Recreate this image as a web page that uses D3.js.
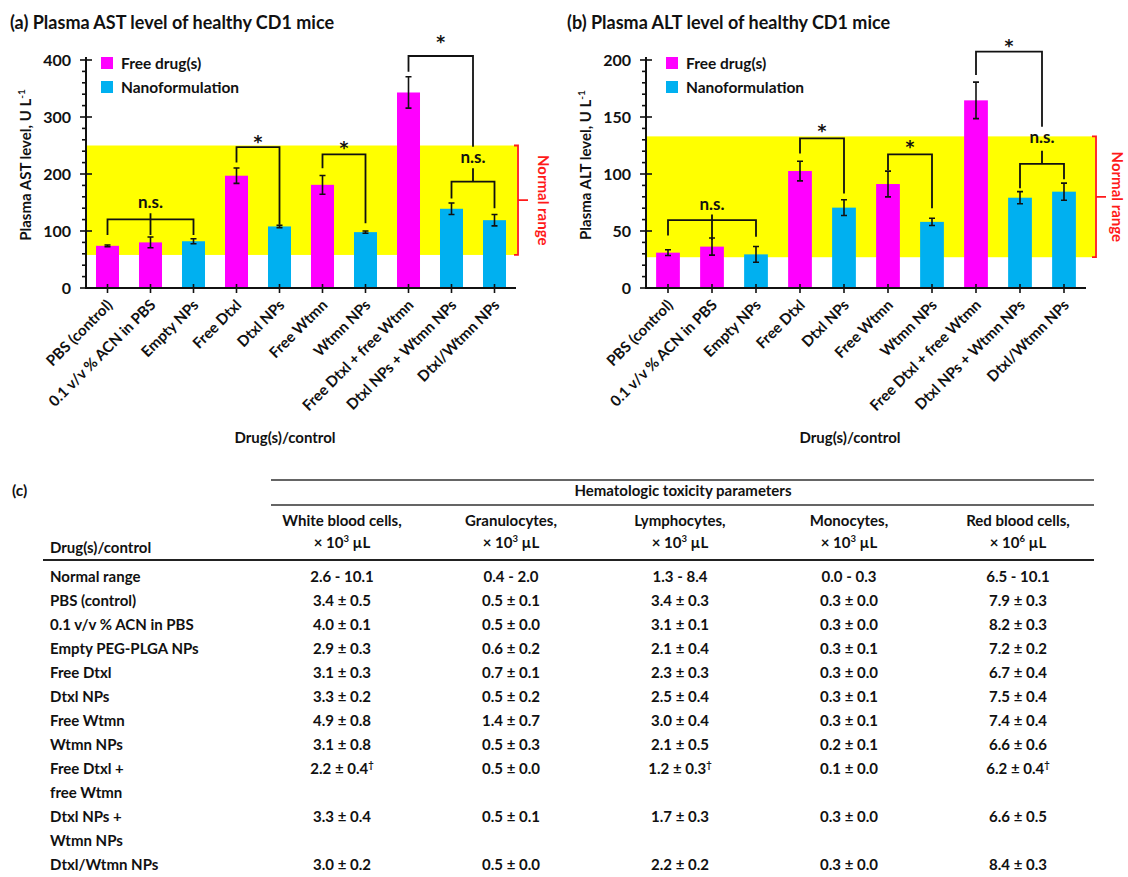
<!DOCTYPE html>
<html><head><meta charset="utf-8">
<script src="https://cdn.jsdelivr.net/npm/d3@7"></script>
<style>
body{margin:0;background:#fff;}
svg{display:block;font-family:Lato,'Open Sans',sans-serif;font-weight:700;}
</style></head><body>
<svg id="chart" width="1128" height="877"></svg>
<script>
// ---------- data ----------
const categories = ["PBS (control)","0.1 v/v % ACN in PBS","Empty NPs","Free Dtxl","Dtxl NPs","Free Wtmn","Wtmn NPs","Free Dtxl + free Wtmn","Dtxl NPs + Wtmn NPs","Dtxl/Wtmn NPs"];
const seriesNames = ["Free drug(s)","Nanoformulation"];
const formulation = ["Free drug(s)","Free drug(s)","Nanoformulation","Free drug(s)","Nanoformulation","Free drug(s)","Nanoformulation","Free drug(s)","Nanoformulation","Nanoformulation"];
const astValues = [74, 80, 82, 197, 108, 181, 98, 343, 139, 119];
const astErrors = [1.5, 9.5, 4.4, 13.5, 2, 16.5, 2, 27.5, 10, 10];
const altValues = [31, 36.3, 29.5, 102.6, 70.5, 91.2, 58, 164.6, 79.2, 84.5];
const altErrors = [2.5, 7.5, 6.9, 8.6, 6.9, 11.3, 3.2, 16, 5.3, 7.5];
const astNormalRange = [58, 250];
const altNormalRange = [27, 133];
const astTicks = [0, 100, 200, 300, 400];
const altTicks = [0, 50, 100, 150, 200];
const astBrackets = [
  {from:0, to:2, y:120.5, fromEnd:93, toEnd:93, mid:1, midTop:131, midEnd:93, label:"n.s.", labelY:140},
  {from:3, to:4, y:247, fromEnd:220, toEnd:111, label:"*", labelY:252},
  {from:5, to:6, y:234.5, fromEnd:210, toEnd:113.5, label:"*", labelY:242},
  {from:7, to:8.5, y:407, fromEnd:379.5, toEnd:248, label:"*", labelY:428},
  {from:8, to:9, y:186.5, fromEnd:157, toEnd:140, mid:8.5, midTop:210, midEnd:186.5, label:"n.s.", labelY:219}
];
const altBrackets = [
  {from:0, to:2, y:59.6, fromEnd:46, toEnd:45, mid:1, midTop:64.5, midEnd:42, label:"n.s.", labelY:68},
  {from:3, to:4, y:131.3, fromEnd:118, toEnd:83, label:"*", labelY:135.7},
  {from:5, to:6, y:117.3, fromEnd:103.5, toEnd:70, label:"*", labelY:122.2},
  {from:7, to:8.5, y:207.3, fromEnd:186.8, toEnd:141.5, label:"*", labelY:210.8},
  {from:8, to:9, y:108.8, fromEnd:87.4, toEnd:95.3, mid:8.5, midTop:120.4, midEnd:108.8, label:"n.s.", labelY:127.5}
];

const tableColumns = ["White blood cells,","Granulocytes,","Lymphocytes,","Monocytes,","Red blood cells,"];
const tableUnitExponents = ["3","3","3","3","6"];
const tableRowLabels = [["Normal range"],["PBS (control)"],["0.1 v/v % ACN in PBS"],["Empty PEG-PLGA NPs"],["Free Dtxl"],["Dtxl NPs"],["Free Wtmn"],["Wtmn NPs"],["Free Dtxl +","free Wtmn"],["Dtxl NPs +","Wtmn NPs"],["Dtxl/Wtmn NPs"]];
const whiteBloodCells = ["2.6 - 10.1","3.4 ± 0.5","4.0 ± 0.1","2.9 ± 0.3","3.1 ± 0.3","3.3 ± 0.2","4.9 ± 0.8","3.1 ± 0.8","2.2 ± 0.4†","3.3 ± 0.4","3.0 ± 0.2"];
const granulocytes = ["0.4 - 2.0","0.5 ± 0.1","0.5 ± 0.0","0.6 ± 0.2","0.7 ± 0.1","0.5 ± 0.2","1.4 ± 0.7","0.5 ± 0.3","0.5 ± 0.0","0.5 ± 0.1","0.5 ± 0.0"];
const lymphocytes = ["1.3 - 8.4","3.4 ± 0.3","3.1 ± 0.1","2.1 ± 0.4","2.3 ± 0.3","2.5 ± 0.4","3.0 ± 0.4","2.1 ± 0.5","1.2 ± 0.3†","1.7 ± 0.3","2.2 ± 0.2"];
const monocytes = ["0.0 - 0.3","0.3 ± 0.0","0.3 ± 0.0","0.3 ± 0.1","0.3 ± 0.0","0.3 ± 0.1","0.3 ± 0.1","0.2 ± 0.1","0.1 ± 0.0","0.3 ± 0.0","0.3 ± 0.0"];
const redBloodCells = ["6.5 - 10.1","7.9 ± 0.3","8.2 ± 0.3","7.2 ± 0.2","6.7 ± 0.4","7.5 ± 0.4","7.4 ± 0.4","6.6 ± 0.6","6.2 ± 0.4†","6.6 ± 0.5","8.4 ± 0.3"];

// ---------- drawing ----------
const svg = d3.select("#chart");
const color = d3.scaleOrdinal().domain(seriesNames).range(["#ff00ff","#00b0f0"]);

function drawPanel(cfg){
  const g = svg.append("g");
  const x = d3.scaleBand().domain(categories).range([cfg.left, cfg.right])
    .paddingInner(cfg.pad).paddingOuter(cfg.pad/2);
  const y = d3.scaleLinear().domain([0, cfg.max]).range([288, 60]);
  const xc = i => x.range()[0] + x.step()*(i + 0.5);

  // title
  g.append("text").attr("x", cfg.titleX).attr("y", 29).attr("font-size", 18).attr("fill","#111").text(cfg.title);

  // normal range band
  g.append("rect").attr("x", cfg.left).attr("width", cfg.bandRight - cfg.left)
    .attr("y", y(cfg.normal[1])).attr("height", y(cfg.normal[0]) - y(cfg.normal[1]))
    .attr("fill", "#ffff00");
  const bx = cfg.bandRight + 1;
  const midY = y((cfg.normal[0] + cfg.normal[1]) / 2);
  g.append("path").attr("d", `M${bx-4},${y(cfg.normal[1])}H${bx}V${y(cfg.normal[0])}H${bx-4}M${bx},${midY}H${bx+10}`)
    .attr("stroke","#ff1a1a").attr("stroke-width",1.8).attr("fill","none");
  g.append("text").attr("transform", `translate(${cfg.normalTextX},${midY}) rotate(90)`)
    .attr("text-anchor","middle").attr("dy","0.35em").attr("font-size",15).attr("fill","#ff1a1a").text("Normal range");

  // bars
  g.selectAll(".bar").data(categories).join("rect")
    .attr("x", d => x(d)).attr("width", x.bandwidth())
    .attr("y", (d,i) => y(cfg.values[i])).attr("height", (d,i) => y(0) - y(cfg.values[i]))
    .attr("fill", (d,i) => color(formulation[i]));

  // error bars
  const eb = g.append("g").attr("stroke","#111").attr("stroke-width",1.6).attr("fill","none");
  categories.forEach((c,i) => {
    const cx = xc(i), t = y(cfg.values[i] + cfg.errors[i]), b = y(cfg.values[i] - cfg.errors[i]);
    eb.append("path").attr("d", `M${cx},${t}V${b}M${cx-3},${t}H${cx+3}M${cx-3},${b}H${cx+3}`);
  });

  // axes
  const ax = g.append("g").attr("stroke","#111").attr("fill","none");
  ax.append("path").attr("d", `M${cfg.left},${y(0)}V${y(cfg.max)-3}`).attr("stroke-width",2);
  ax.append("path").attr("d", `M${cfg.left-1},${y(0)}H${cfg.right}`).attr("stroke-width",2);
  d3.range(0, cfg.max + 1e-9, cfg.minor).forEach(v => {
    const major = cfg.ticks.includes(v);
    ax.append("path").attr("d", `M${cfg.left-(major?6:4)},${y(v)}H${cfg.left+(major?6:0)}`).attr("stroke-width",1.6);
  });
  categories.forEach((c,i) => {
    ax.append("path").attr("d", `M${xc(i)},${y(0)-4}V${y(0)+5}`).attr("stroke-width",1.6);
  });
  g.selectAll(".ytick").data(cfg.ticks).join("text")
    .attr("x", cfg.left - 15).attr("y", d => y(d)).attr("dy","0.36em")
    .attr("text-anchor","end").attr("font-size",16).attr("fill","#111").text(d => d);
  g.selectAll(".xlab").data(categories).join("text")
    .attr("transform", (d,i) => `translate(${xc(i)+6},${y(0)+18}) rotate(-45)`)
    .attr("text-anchor","end").attr("font-size",15).attr("fill","#111").text(d => d);
  g.append("text").attr("x", (cfg.left + cfg.right)/2 - 16).attr("y", 443)
    .attr("text-anchor","middle").attr("font-size",15).attr("fill","#111").text("Drug(s)/control");
  const yl = g.append("text").attr("transform", `translate(${cfg.left-55},${165}) rotate(-90)`)
    .attr("text-anchor","middle").attr("font-size",15).attr("fill","#111");
  yl.append("tspan").text(cfg.ylabel);
  yl.append("tspan").attr("font-size",10).attr("dy",-6).text("-1");

  // legend
  seriesNames.forEach((s,k) => {
    const ly = 57 + k*24;
    g.append("rect").attr("x", cfg.left + cfg.legendDx).attr("y", ly).attr("width",12).attr("height",12).attr("fill", color(s));
    g.append("text").attr("x", cfg.left + cfg.legendDx + 20).attr("y", ly + 11.5).attr("font-size",15.5).attr("fill","#111").text(s);
  });

  // significance brackets
  const br = g.append("g");
  cfg.brackets.forEach(b => {
    let d = `M${xc(b.from)},${y(b.fromEnd)}V${y(b.y)}H${xc(b.to)}V${y(b.toEnd)}`;
    if (b.mid !== undefined) d += `M${xc(b.mid)},${y(b.midTop)}V${y(b.midEnd)}`;
    br.append("path").attr("d", d).attr("stroke","#111").attr("stroke-width",1.8).attr("fill","none");
    const tx = b.mid !== undefined ? xc(b.mid) : (xc(b.from) + xc(b.to))/2;
    const star = b.label === "*";
    br.append("text").attr("x", tx).attr("y", y(b.labelY) + (star ? 4 : 0)).attr("text-anchor","middle")
      .attr("font-family", star ? "'DejaVu Sans',sans-serif" : null)
      .attr("font-size", star ? 17 : 17).attr("fill","#111").text(b.label);
  });
}

drawPanel({left:86, right:516, pad:0.465, max:400, ticks:astTicks, minor:20, values:astValues, errors:astErrors,
  normal:astNormalRange, brackets:astBrackets, bandRight:517, normalTextX:543, titleX:10, legendDx:15,
  title:"(a) Plasma AST level of healthy CD1 mice", ylabel:"Plasma AST level, U L"});
drawPanel({left:646, right:1086, pad:0.46, max:200, ticks:altTicks, minor:10, values:altValues, errors:altErrors,
  normal:altNormalRange, brackets:altBrackets, bandRight:1095, normalTextX:1117, titleX:567, legendDx:20,
  title:"(b) Plasma ALT level of healthy CD1 mice", ylabel:"Plasma ALT level, U L"});

// ---------- table (c) ----------
const tg = svg.append("g").attr("fill","#111").attr("font-size",15);
tg.append("text").attr("x",12).attr("y",496).attr("font-size",15.5).text("(c)");
tg.append("path").attr("d","M271,480H1094M271,505H1094").attr("stroke","#333").attr("stroke-width",1.5);
tg.append("path").attr("d","M43,560H1094").attr("stroke","#222").attr("stroke-width",2.2);
tg.append("text").attr("x",683).attr("y",496).attr("text-anchor","middle").text("Hematologic toxicity parameters");
tg.append("text").attr("x",50).attr("y",553).text("Drug(s)/control");
const colX = d3.scalePoint().domain(tableColumns).range([342, 1018]);
tableColumns.forEach((c,k) => {
  tg.append("text").attr("x", colX(c)).attr("y",526).attr("text-anchor","middle").text(c);
  const u = tg.append("text").attr("x", colX(c)).attr("y",548).attr("text-anchor","middle");
  u.append("tspan").text("× 10");
  u.append("tspan").attr("font-size",9.5).attr("dy",-6).text(tableUnitExponents[k]);
  u.append("tspan").attr("dy",6).text(" µL");
});
const tableCols = [whiteBloodCells, granulocytes, lymphocytes, monocytes, redBloodCells];
const lineY = d3.scaleLinear().domain([0, 12]).range([582, 870]);
let line = 0;
tableRowLabels.forEach((lab, r) => {
  lab.forEach((t, j) => tg.append("text").attr("x",50).attr("y", lineY(line + j)).text(t));
  tableCols.forEach((col, k) => {
    const v = col[r];
    const t = tg.append("text").attr("x", colX(tableColumns[k])).attr("y", lineY(line)).attr("text-anchor","middle");
    if (v.endsWith("†")) {
      t.append("tspan").text(v.slice(0,-1));
      t.append("tspan").attr("font-size",9.5).attr("dy",-6).text("†");
    } else t.text(v);
  });
  line += lab.length;
});
</script>
</body></html>
